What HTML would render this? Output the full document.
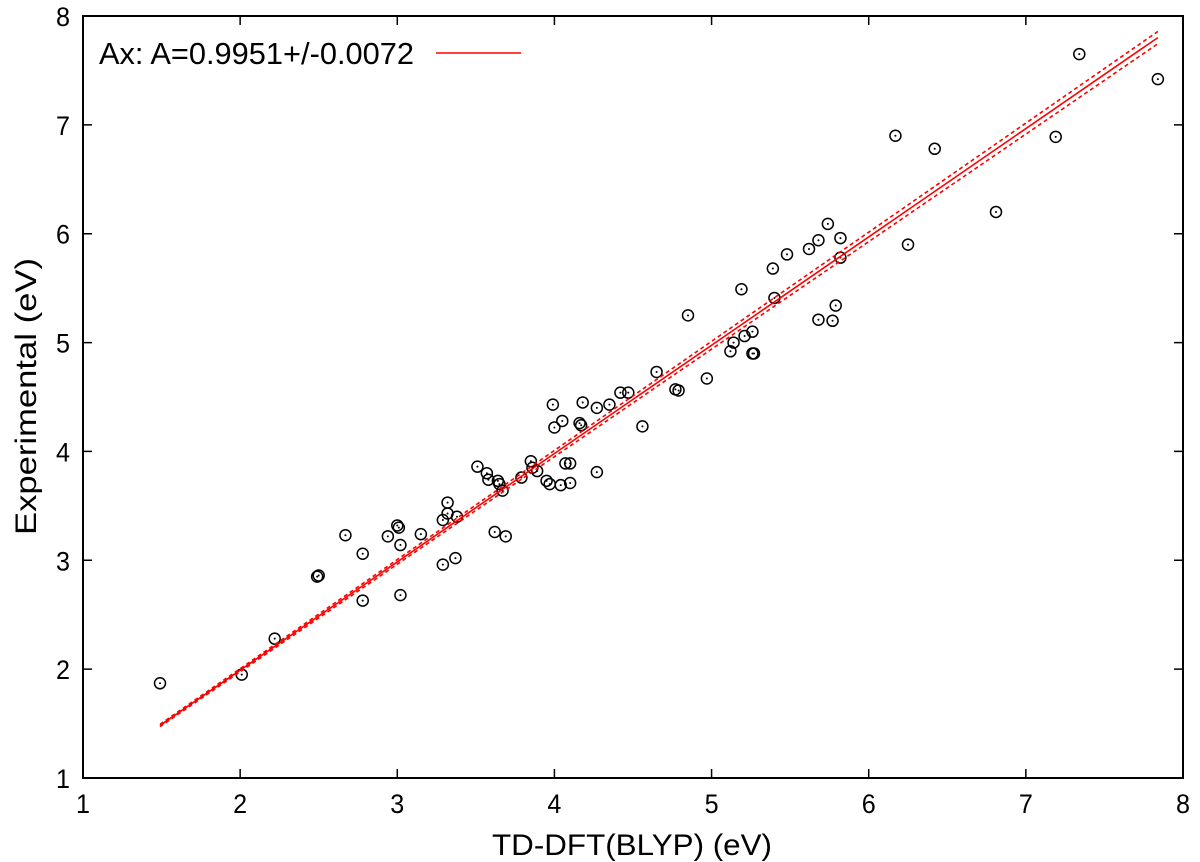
<!DOCTYPE html>
<html><head><meta charset="utf-8"><style>
html,body{margin:0;padding:0;background:#fff}
svg{display:block;font-family:"Liberation Sans",sans-serif}
</style></head><body>
<svg id="chart" width="1200" height="862" viewBox="0 0 1200 862" xmlns="http://www.w3.org/2000/svg"></svg>
<script>
const xTicks=[1,2,3,4,5,6,7,8];
const yTicks=[1,2,3,4,5,6,7,8];
const xVals=[1.49,2.01,2.22,2.49,2.50,2.67,2.78,2.78,2.94,3.0,3.01,3.02,3.02,3.15,3.29,3.29,3.32,3.32,3.38,3.37,3.51,3.57,3.58,3.62,3.64,3.65,3.67,3.69,3.79,3.85,3.86,3.89,3.95,3.97,3.99,4.0,4.04,4.05,4.07,4.1,4.1,4.16,4.17,4.18,4.27,4.27,4.35,4.42,4.47,4.56,4.65,4.77,4.79,4.85,4.97,5.12,5.14,5.19,5.21,5.26,5.26,5.27,5.39,5.40,5.48,5.62,5.68,5.68,5.74,5.77,5.79,5.82,5.82,6.17,6.25,6.42,6.81,7.19,7.34,7.84];
const yVals=[1.87,1.95,2.28,2.85,2.86,3.23,3.06,2.63,3.22,3.32,3.30,3.14,2.68,3.24,3.37,2.96,3.53,3.43,3.40,3.02,3.86,3.80,3.74,3.26,3.73,3.70,3.64,3.22,3.76,3.91,3.85,3.82,3.73,3.70,4.43,4.22,3.69,4.28,3.89,3.89,3.71,4.26,4.24,4.45,4.40,3.81,4.43,4.54,4.54,4.23,4.73,4.57,4.56,5.25,4.67,4.92,5.00,5.49,5.06,5.10,4.90,4.90,5.68,5.41,5.81,5.86,5.21,5.94,6.09,5.20,5.34,5.96,5.78,6.90,5.90,6.78,6.20,6.89,7.65,7.42];
const slope=[0.9951];
const slopeErr=[0.0072];
const fitRange=[1.49,7.84];
const NS="http://www.w3.org/2000/svg";
const svg=document.getElementById('chart');
const L=83,R=1183,T=16,B=778;
const sx=v=>L+(v-1)/7*(R-L);
const sy=v=>B-(v-1)/7*(B-T);
function mk(tag,attrs,parent){const e=document.createElementNS(NS,tag);for(const k in attrs)e.setAttribute(k,attrs[k]);(parent||svg).appendChild(e);return e;}
const frame=mk('rect',{x:L,y:T,width:R-L,height:B-T,fill:'none',stroke:'#000','stroke-width':2});


xTicks.forEach(t=>{
 const x=sx(t);
 const tk=mk('path',{d:`M${x},${B}v-9M${x},${T}v9`,stroke:'#000','stroke-width':1.5});
 
 
 const lb=mk('text',{x:x,y:B+35,'text-anchor':'middle','font-size':27,textLength:14,lengthAdjust:'spacingAndGlyphs'});
 lb.textContent=t;
 
 
});
yTicks.forEach(t=>{
 const y=sy(t);
 const tk=mk('path',{d:`M${L},${y}h9M${R},${y}h-9`,stroke:'#000','stroke-width':1.5});
 
 
 const lb=mk('text',{x:L-13,y:y+10,'text-anchor':'end','font-size':27,textLength:14,lengthAdjust:'spacingAndGlyphs'});
 lb.textContent=t;
 
 
});
const xl=mk('text',{x:492,y:855,'font-size':30,textLength:280,lengthAdjust:'spacingAndGlyphs'});
xl.textContent='TD-DFT(BLYP) (eV)';


const yl=mk('text',{x:-138,y:0,'font-size':30,textLength:277,lengthAdjust:'spacingAndGlyphs',transform:'translate(36,397) rotate(-90)'});
yl.textContent='Experimental (eV)';


xVals.forEach((v,i)=>{
 const g=mk('g',{});
 
 
 mk('circle',{cx:sx(v),cy:sy(yVals[i]),r:5.5,fill:'none',stroke:'#000','stroke-width':1.5},g);
 mk('circle',{cx:sx(v),cy:sy(yVals[i]),r:1,fill:'#000'},g);
});
const a=slope[0],e=slopeErr[0],x0=fitRange[0],x1=fitRange[1];
const fit=mk('line',{x1:sx(x0),y1:sy(a*x0),x2:sx(x1),y2:sy(a*x1),stroke:'#f00','stroke-width':1.6});


[a+e,a-e].forEach(s=>{
 const l=mk('line',{x1:sx(x0),y1:sy(s*x0),x2:sx(x1),y2:sy(s*x1),stroke:'#f00','stroke-width':1.6,'stroke-dasharray':'4,3'});
 
 
});
const lg=mk('g',{});


const lt=mk('text',{x:99,y:64,'font-size':31,textLength:315,lengthAdjust:'spacingAndGlyphs'},lg);
lt.textContent='Ax: A=0.9951+/-0.0072';
mk('line',{x1:436,y1:53,x2:521,y2:53,stroke:'#f00','stroke-width':1.6},lg);
</script>
</body></html>
